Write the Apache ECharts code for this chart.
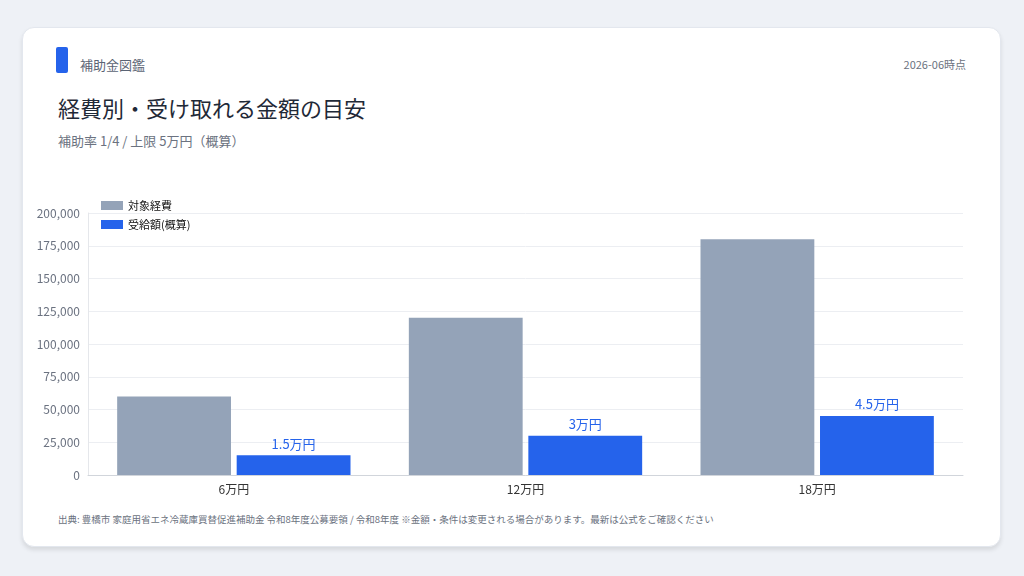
<!DOCTYPE html>
<html><head><meta charset="utf-8">
<script src="https://cdn.jsdelivr.net/npm/echarts@6/dist/echarts.min.js"></script>
<style>
body{margin:0;width:1024px;height:576px;background:#eef1f6;font-family:"Noto Sans CJK JP","Noto Sans",sans-serif;position:relative;overflow:hidden}
.card{position:absolute;left:22px;top:27px;width:979px;height:520px;background:#fff;border-radius:12px;box-shadow:0 3px 4px rgba(0,0,0,0.10);border:1px solid #e3e7ee;box-sizing:border-box}
.t{position:absolute;white-space:nowrap}
#c{position:absolute;left:0;top:0;width:1024px;height:576px}
</style></head><body>
<div class="card"></div>
<div class="t" style="left:56px;top:47px;width:12px;height:26px;background:#2563eb;border-radius:2px"></div>
<div class="t" style="left:80px;top:55px;font-size:13px;color:#5b6474">補助金図鑑</div>
<div class="t" style="right:58px;top:56px;font-size:11px;color:#6b7280">2026-06時点</div>
<div class="t" style="left:58px;top:91px;font-size:22px;color:#1f2937">経費別・受け取れる金額の目安</div>
<div class="t" style="left:58px;top:131px;font-size:13px;color:#6b7280">補助率 1/4 / 上限 5万円（概算）</div>
<div class="t" style="left:58px;top:512px;font-size:9.5px;color:#6b7280">出典: 豊橋市 家庭用省エネ冷蔵庫買替促進補助金 令和8年度公募要領 / 令和8年度 ※金額・条件は変更される場合があります。最新は公式をご確認ください</div>
<div id="c"></div>
<script>
const categories=["6万円","12万円","18万円"];
const costValues=[60000,120000,180000];
const grantValues=[15000,30000,45000];
const grantLabels=["1.5万円","3万円","4.5万円"];
const ch=echarts.init(document.getElementById('c'));
ch.setOption({
 textStyle:{fontFamily:'"Noto Sans CJK JP","Noto Sans",sans-serif'},
 legend:{left:96,top:195,orient:'vertical',itemWidth:22,itemHeight:9,itemGap:8,textStyle:{fontSize:11,color:'#111'},icon:'rect'},
 grid:{left:88,right:61,top:213,bottom:101},
 xAxis:{type:'category',data:categories,axisTick:{show:false},axisLine:{lineStyle:{color:'#d1d5db'}},axisLabel:{fontSize:12,color:'#333'}},
 yAxis:{type:'value',min:0,max:200000,interval:25000,axisLine:{show:true,lineStyle:{color:'#e5e7eb'}},splitLine:{lineStyle:{color:'#eceef2'}},axisLabel:{fontSize:12,color:'#6b7280'}},
 series:[
  {name:'対象経費',type:'bar',data:costValues,itemStyle:{color:'#94a3b8'},barGap:'5%',barCategoryGap:'20%'},
  {name:'受給額(概算)',type:'bar',data:grantValues,itemStyle:{color:'#2563eb'},
   label:{show:true,position:'top',fontSize:13,color:'#2563eb',formatter:p=>grantLabels[p.dataIndex]}}
 ]
});
</script></body></html>
